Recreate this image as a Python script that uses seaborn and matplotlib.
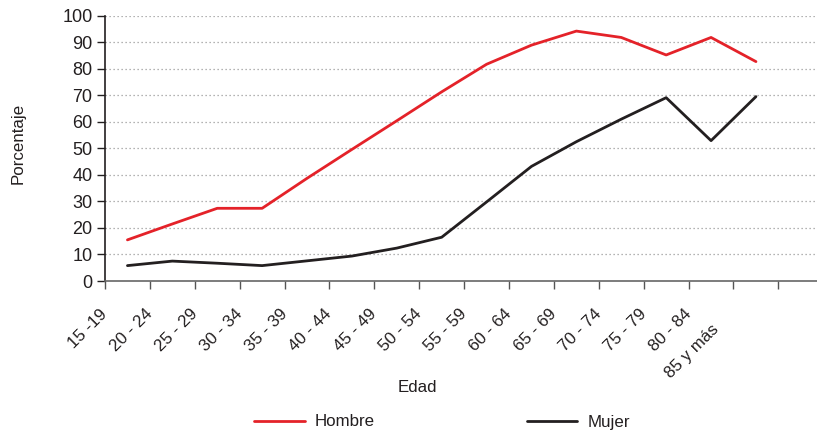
import numpy as np
import pandas as pd
import matplotlib
matplotlib.use("Agg")
import matplotlib.pyplot as plt
import matplotlib.transforms as mtransforms
from matplotlib.lines import Line2D
import seaborn as sns

categorias = ["15 -19", "20 - 24", "25 - 29", "30 - 34", "35 - 39", "40 - 44",
              "45 - 49", "50 - 54", "55 - 59", "60 - 64", "65 - 69", "70 - 74",
              "75 - 79", "80 - 84", "85 y más"]
hombre = [15.5, 21.5, 27.4, 27.4, 38.7, 49.6, 60.4, 71.3, 81.7, 88.9, 94.2, 91.8, 85.2, 91.8, 82.7]
mujer = [5.8, 7.5, 6.7, 5.8, 7.6, 9.4, 12.4, 16.5, 29.8, 43.2, 52.5, 61.0, 69.1, 52.9, 69.5]
series = ["Hombre", "Mujer"]
colores = ["#e42229", "#231f20"]
yticks = [0, 10, 20, 30, 40, 50, 60, 70, 80, 90, 100]

df = pd.DataFrame({
    "pos": list(range(len(categorias))) * 2,
    "valor": hombre + mujer,
    "sexo": [series[0]] * len(hombre) + [series[1]] * len(mujer),
})

sns.set_theme(style="white")
plt.rcParams["font.family"] = ["Liberation Sans", "DejaVu Sans"]
FS = 12.2

fig = plt.figure(figsize=(8.17, 4.33), dpi=100)
ax = fig.add_axes([105 / 817, 1 - 281 / 433, 1 - 105 / 817, (281 - 15.7) / 433])

sns.lineplot(data=df, x="pos", y="valor", hue="sexo", palette=dict(zip(series, colores)),
             linewidth=2.0, ax=ax, legend=False, sort=False)

ax.set_xlim(-0.5, 15.36)
ax.set_ylim(0, 100)
ax.set_yticks(yticks)
ax.set_yticklabels([str(v) for v in yticks], fontsize=13, color="#231f20")
for v in yticks[1:]:
    ax.axhline(v, color="#9a9a9a", linestyle=(0, (1, 2.2)), linewidth=0.9, zorder=0)

tick_pos = np.arange(len(categorias) + 1) - 0.5
ax.set_xticks(tick_pos)
ax.set_xticklabels(categorias[:-1] + ["", ""], rotation=45, ha="right", va="center",
                   rotation_mode="anchor", fontsize=FS, color="#231f20")
# last category label sits a little lower-left in the reference
tr = mtransforms.offset_copy(ax.get_xaxis_transform(), fig=fig, x=-12.2, y=-32.8, units="points")
ax.text(tick_pos[len(categorias) - 1], 0, categorias[-1], transform=tr, rotation=45,
        ha="right", va="center", rotation_mode="anchor", fontsize=FS, color="#231f20")

ax.tick_params(axis="x", length=6, width=1, color="#555555", pad=16, bottom=True)
ax.tick_params(axis="y", length=6, width=1, color="#231f20", pad=3, left=True)

for s in ["top", "right"]:
    ax.spines[s].set_visible(False)
ax.spines["left"].set_color("#231f20")
ax.spines["left"].set_linewidth(1.2)
ax.spines["bottom"].set_color("#666666")
ax.spines["bottom"].set_linewidth(1.2)

ax.set_xlabel("")
ax.set_ylabel("Porcentaje", fontsize=FS, color="#231f20")
ax.yaxis.set_label_coords(-0.111, 0.52)

fig.text(417 / 817, 1 - 388 / 433, "Edad", ha="center", va="center", fontsize=FS, color="#231f20")

handles = [Line2D([], [], color=c, linewidth=2.0) for c in colores]
fig.legend(handles, series, loc="center", bbox_to_anchor=(442 / 817, 1 - 422 / 433), ncol=2,
           frameon=False, handlelength=3.0, handletextpad=0.6, columnspacing=8.95, fontsize=FS,
           labelcolor="#231f20")

fig.savefig("out.png", dpi=100)
